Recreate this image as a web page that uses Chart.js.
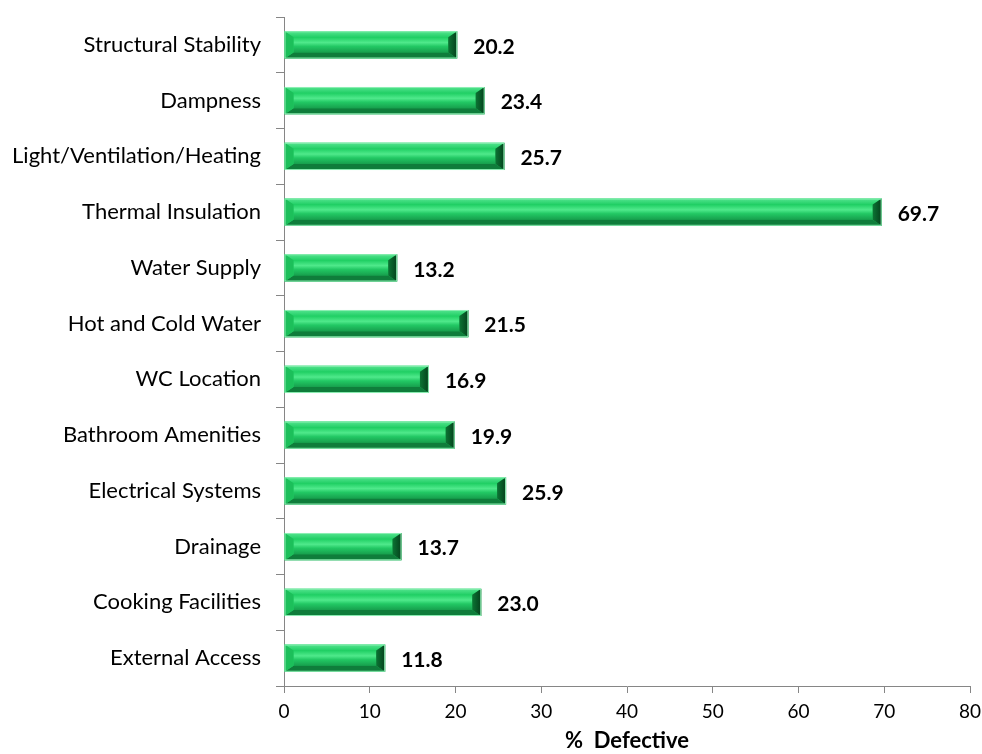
<!DOCTYPE html>
<html>
<head>
<meta charset="utf-8">
<script src="https://cdn.jsdelivr.net/npm/chart.js@4.4.1/dist/chart.umd.min.js"></script>
<style>
  html, body { margin: 0; padding: 0; background: #fff; }
  #wrap { width: 982px; height: 754px; position: relative; }
</style>
</head>
<body>
<div id="wrap"><canvas id="chart"></canvas></div>
<script>
const categories = [
  "Structural Stability",
  "Dampness",
  "Light/Ventilation/Heating",
  "Thermal Insulation",
  "Water Supply",
  "Hot and Cold Water",
  "WC Location",
  "Bathroom Amenities",
  "Electrical Systems",
  "Drainage",
  "Cooking Facilities",
  "External Access"
];
const defectivePct = [20.2, 23.4, 25.7, 69.7, 13.2, 21.5, 16.9, 19.9, 25.9, 13.7, 23.0, 11.8];
const xTicks = [0, 10, 20, 30, 40, 50, 60, 70, 80];
const xTitle = "%  Defective";

const FONT = "Lato, 'Open Sans', sans-serif";
const AXIS_GREY = "#868686";

// bevelled bar look, drawn on top of the bar elements
const bevelPlugin = {
  id: 'bevel',
  afterDatasetsDraw(chart) {
    const ctx = chart.ctx;
    const meta = chart.getDatasetMeta(0);
    meta.data.forEach((bar) => {
      const p = bar.getProps(['x', 'y', 'base', 'height'], true);
      const x0 = p.base, x1 = p.x;
      const y0 = p.y - p.height / 2, y1 = p.y + p.height / 2;
      const bx = Math.min(9, (x1 - x0) / 2), by = p.height * 0.22;

      ctx.save();
      // face
      const g = ctx.createLinearGradient(0, y0 + by, 0, y1 - by);
      g.addColorStop(0, '#1fcf63');
      g.addColorStop(0.35, '#4fe98b');
      g.addColorStop(0.6, '#22c864');
      g.addColorStop(1, '#179f4d');
      ctx.fillStyle = g;
      ctx.fillRect(x0 + bx, y0 + by, x1 - x0 - 2 * bx, y1 - y0 - 2 * by);

      const poly = (pts, color) => {
        ctx.beginPath();
        ctx.moveTo(pts[0][0], pts[0][1]);
        for (let i = 1; i < pts.length; i++) ctx.lineTo(pts[i][0], pts[i][1]);
        ctx.closePath();
        ctx.fillStyle = color;
        ctx.fill();
      };
      // top
      const gt = ctx.createLinearGradient(0, y0, 0, y0 + by);
      gt.addColorStop(0, '#55e590');
      gt.addColorStop(1, '#22cf66');
      poly([[x0, y0], [x1, y0], [x1 - bx, y0 + by], [x0 + bx, y0 + by]], gt);
      // bottom
      poly([[x0, y1], [x1, y1], [x1 - bx, y1 - by], [x0 + bx, y1 - by]], '#0f7d3b');
      // left
      poly([[x0, y0], [x0 + bx, y0 + by], [x0 + bx, y1 - by], [x0, y1]], '#1cbf5a');
      // right
      const gr = ctx.createLinearGradient(x1 - bx, 0, x1, 0);
      gr.addColorStop(0, '#0c7434');
      gr.addColorStop(1, '#04401b');
      poly([[x1, y0], [x1 - bx, y0 + by], [x1 - bx, y1 - by], [x1, y1]], gr);
      // thin outline
      ctx.strokeStyle = '#8eefb4';
      ctx.lineWidth = 1;
      ctx.strokeRect(x0 + 0.5, y0 + 0.5, x1 - x0 - 1, y1 - y0 - 1);
      ctx.restore();
    });
  }
};

// value labels to the right of each bar
const valueLabels = {
  id: 'valueLabels',
  afterDatasetsDraw(chart) {
    const ctx = chart.ctx;
    const meta = chart.getDatasetMeta(0);
    const data = chart.data.datasets[0].data;
    ctx.save();
    ctx.font = "bold 21px " + FONT;
    ctx.fillStyle = '#000';
    ctx.textAlign = 'left';
    ctx.textBaseline = 'middle';
    meta.data.forEach((bar, i) => {
      ctx.fillText(data[i].toFixed(1), bar.x + 16, bar.y + 2);
    });
    ctx.restore();
  }
};

new Chart(document.getElementById('chart'), {
  type: 'bar',
  data: {
    labels: categories,
    datasets: [{
      data: defectivePct,
      backgroundColor: '#1fcf63',
      borderWidth: 0,
      categoryPercentage: 1.0,
      barPercentage: 0.49
    }]
  },
  options: {
    indexAxis: 'y',
    responsive: true,
    maintainAspectRatio: false,
    animation: false,
    layout: { padding: { top: 17, right: 12, left: 0, bottom: 0 } },
    plugins: {
      legend: { display: false },
      tooltip: { enabled: false }
    },
    scales: {
      x: {
        min: 0,
        max: 80,
        afterBuildTicks: (scale) => { scale.ticks = xTicks.map(v => ({ value: v })); },
        afterFit: (scale) => {
          scale.height = 68;
          scale.paddingLeft = 0;
          scale.paddingRight = 0;
        },
        border: { display: true, color: AXIS_GREY, width: 1 },
        grid: { drawOnChartArea: false, drawTicks: true, tickLength: 7, color: AXIS_GREY },
        ticks: { color: '#000', font: { family: FONT, size: 19 }, padding: 7 },
        title: {
          display: true,
          text: xTitle,
          color: '#000',
          font: { family: FONT, size: 22, weight: 'bold' },
          padding: { top: 0, bottom: 0 }
        }
      },
      y: {
        afterFit: (scale) => {
          scale.width = 284;
          scale.paddingTop = 0;
          scale.paddingBottom = 0;
        },
        border: { display: true, color: AXIS_GREY, width: 1 },
        grid: { drawOnChartArea: false, drawTicks: true, tickLength: 8, color: AXIS_GREY, offset: true },
        ticks: { color: '#000', font: { family: FONT, size: 22 }, padding: 15 }
      }
    }
  },
  plugins: [bevelPlugin, valueLabels]
});
</script>
</body>
</html>
